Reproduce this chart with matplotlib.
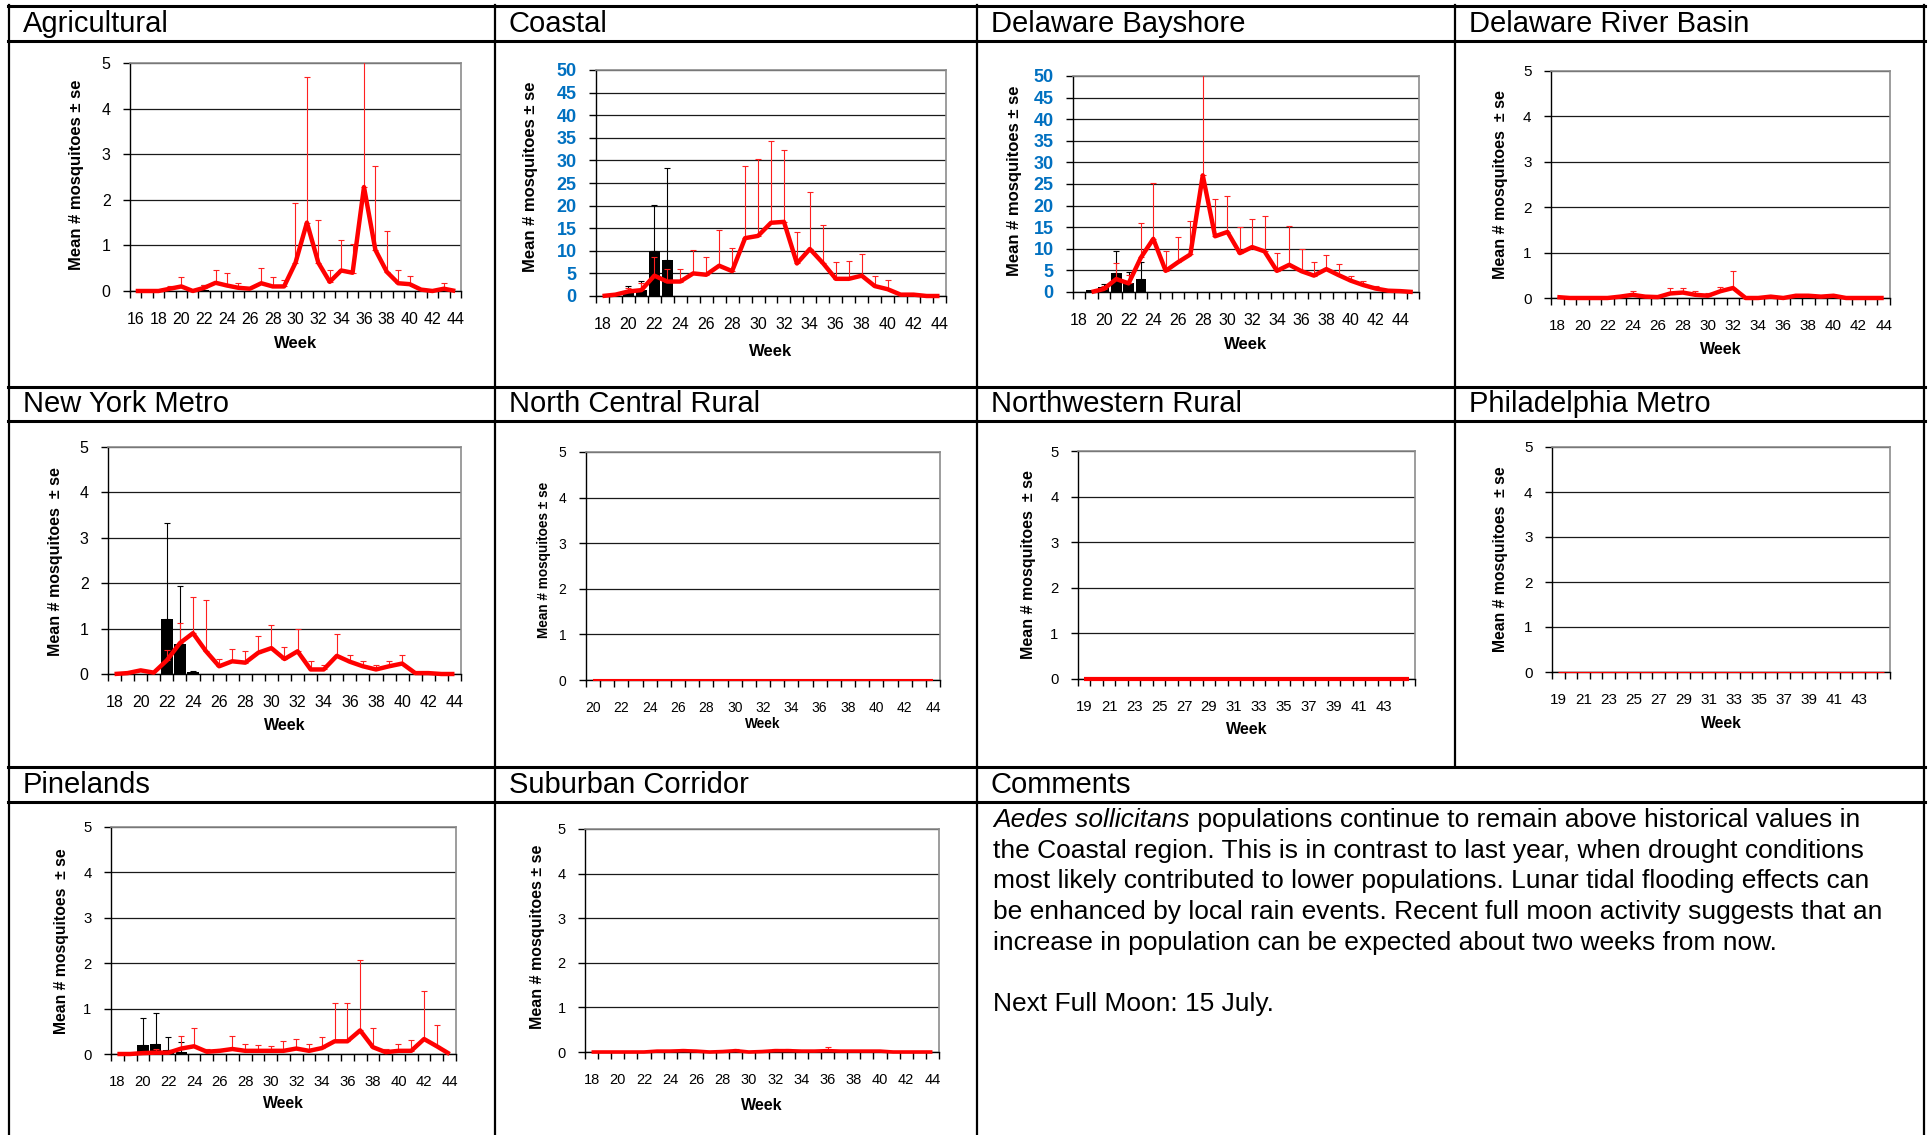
import matplotlib
matplotlib.use('Agg')
import matplotlib.pyplot as plt
import numpy as np
from matplotlib.lines import Line2D

plt.rcParams['font.family'] = ['Liberation Sans', 'DejaVu Sans']

W, H = 1931, 1135
nan = np.nan

YLAB = 'Mean # mosquitoes ± se'
YLAB2 = 'Mean # mosquitoes  ± se'

# ---------------- data ----------------
# Agricultural
agri_weeks = list(range(16, 45))
agri_mean = [0, 0, 0, 0.05, 0.1, 0.0, 0.07, 0.18, 0.12, 0.07, 0.05, 0.17, 0.1, 0.1, 0.62,
             1.5, 0.62, 0.2, 0.45, 0.4, 2.28, 0.9, 0.42, 0.17, 0.15, 0.03, 0.0, 0.05, 0.0]
agri_se = [0, 0, 0, 0.06, 0.2, 0, 0.06, 0.29, 0.28, 0.1, 0, 0.33, 0.2, 0.15, 1.31,
           3.2, 0.93, 0.27, 0.67, 0.63, 3.5, 1.85, 0.9, 0.28, 0.18, 0, 0, 0.12, 0]
agri_bar_weeks = [22]
agri_bar_mean = [0.03]
agri_bar_se = [0.1]
agri_ticklabels = list(range(16, 45, 2))

# Coastal
coastal_weeks = list(range(18, 45))
coastal_mean = [0, 0.3, 1.0, 1.3, 4.5, 3.2, 3.2, 5.0, 4.7, 6.7, 5.5, 12.8, 13.3, 16.2,
                16.4, 7.2, 10.4, 7.3, 3.8, 3.8, 4.5, 2.2, 1.5, 0.3, 0.3, 0, 0]
coastal_se = [0, 0, 0.8, 1.5, 4.2, 2.8, 2.8, 5.2, 4.0, 7.9, 5.1, 15.9, 17.1, 18.0,
              16.0, 6.9, 12.5, 8.4, 3.7, 3.9, 4.7, 2.2, 2.0, 0, 0, 0, 0]
coastal_bar_weeks = [20, 21, 22, 23]
coastal_bar_mean = [0.9, 1.3, 10.0, 8.0]
coastal_bar_se = [1.3, 2.1, 10.2, 20.4]
coastal_ticklabels = list(range(18, 45, 2))

# Delaware Bayshore
bay_weeks = list(range(18, 46))
bay_mean = [nan, 0, 0.7, 3.0, 2.0, 8.0, 12.3, 4.9, 6.9, 8.7, 27.0, 12.9, 13.9, 9.0,
            10.4, 9.4, 4.9, 6.3, 4.8, 3.8, 5.3, 3.9, 2.6, 1.6, 0.8, 0.3, 0.2, 0]
bay_se = [0, 0, 0.6, 3.8, 2.0, 8.0, 13.0, 4.6, 5.9, 7.8, 30.0, 8.6, 8.4, 6.0,
          6.4, 8.1, 4.1, 9.0, 5.2, 3.2, 3.2, 2.6, 1.2, 0.9, 0.7, 0, 0, 0]
bay_bar_weeks = [19, 20, 21, 22, 23]
bay_bar_mean = [0.4, 1.1, 4.4, 2.0, 3.0]
bay_bar_se = [0, 0.7, 5.1, 2.7, 4.0]
bay_ticklabels = list(range(18, 45, 2))

# Delaware River Basin
drb_weeks = list(range(18, 45))
drb_mean = [0.02, 0, 0, 0, 0, 0.03, 0.07, 0.03, 0.02, 0.1, 0.12, 0.07, 0.05, 0.15,
            0.22, 0, 0, 0.03, 0, 0.05, 0.05, 0.03, 0.05, 0, 0, 0, 0]
drb_se = [0, 0, 0, 0, 0, 0, 0.08, 0, 0, 0.12, 0.1, 0.08, 0.07, 0.1,
          0.38, 0, 0, 0, 0, 0, 0, 0, 0, 0, 0, 0, 0]
drb_ticklabels = list(range(18, 45, 2))

# New York Metro
ny_weeks = list(range(18, 45))
ny_mean = [0, 0.02, 0.08, 0.03, 0.3, 0.68, 0.9, 0.5, 0.17, 0.28, 0.25, 0.47, 0.57, 0.33,
           0.5, 0.1, 0.1, 0.4, 0.27, 0.17, 0.1, 0.17, 0.23, 0.02, 0.02, 0, 0]
ny_se = [0, 0, 0, 0, 0.23, 0.44, 0.8, 1.13, 0.16, 0.28, 0.26, 0.36, 0.5, 0.27,
         0.5, 0.18, 0.1, 0.48, 0.14, 0.11, 0.09, 0.11, 0.18, 0, 0, 0, 0]
ny_bar_weeks = [22, 23, 24]
ny_bar_mean = [1.22, 0.67, 0.04]
ny_bar_se = [2.11, 1.26, 0.03]
ny_ticklabels = list(range(18, 45, 2))

# North Central Rural
ncr_weeks = list(range(20, 45))
ncr_mean = [0] * 25
ncr_se = [0] * 25
ncr_ticklabels = list(range(20, 45, 2))

# Northwestern Rural
nwr_weeks = list(range(19, 46))
nwr_mean = [0] * 27
nwr_se = [0] * 27
nwr_ticklabels = list(range(19, 44, 2))

# Philadelphia Metro
phl_weeks = list(range(19, 46))
phl_mean = [0] * 27
phl_se = [0] * 27
phl_ticklabels = list(range(19, 44, 2))

# Pinelands
pine_weeks = list(range(18, 45))
pine_mean = [0, 0, 0.02, 0.03, 0.03, 0.12, 0.17, 0.05, 0.07, 0.11, 0.07, 0.07, 0.07, 0.07,
             0.12, 0.07, 0.13, 0.28, 0.28, 0.52, 0.15, 0.04, 0.07, 0.07, 0.33, 0.17, 0.0]
pine_se = [0, 0, 0, 0.09, 0, 0.27, 0.41, 0.07, 0.04, 0.28, 0.15, 0.13, 0.1, 0.22,
           0.22, 0.15, 0.24, 0.84, 0.84, 1.56, 0.43, 0.06, 0.15, 0.24, 1.05, 0.46, 0]
pine_bar_weeks = [20, 21, 22, 23]
pine_bar_mean = [0.2, 0.22, 0.08, 0.04]
pine_bar_se = [0.6, 0.68, 0.29, 0.23]
pine_ticklabels = list(range(18, 45, 2))

# Suburban Corridor
sub_weeks = list(range(18, 45))
sub_mean = [0, 0, 0, 0, 0, 0.02, 0.02, 0.03, 0.02, 0, 0.01, 0.03, 0, 0.01,
            0.03, 0.03, 0.02, 0.02, 0.03, 0.02, 0.02, 0.02, 0.02, 0, 0, 0, 0]
sub_se = [0, 0, 0, 0, 0, 0, 0, 0.04, 0, 0, 0, 0.04, 0, 0,
          0.04, 0.04, 0, 0, 0.09, 0, 0, 0, 0, 0, 0, 0, 0]
sub_ticklabels = list(range(18, 45, 2))

comment_italic = 'Aedes sollicitans'
comment_lines = [
    ' populations continue to remain above historical values in',
    'the Coastal region. This is in contrast to last year, when drought conditions',
    'most likely contributed to lower populations. Lunar tidal flooding effects can',
    'be enhanced by local rain events. Recent full moon activity suggests that an',
    'increase in population can be expected about two weeks from now.',
    '',
    'Next Full Moon: 15 July.',
]

fig = plt.figure(figsize=(W / 100, H / 100), dpi=100)


def px(x, y):
    return x / W, 1 - y / H


def draw_panel(l, t, r, b, weeks, mean, se, ticklabels, bar_weeks=(), bar_mean=(), bar_se=(),
               ymax=5, ystep=1, lw=3.2, tick_fs=11, lab_fs=12, ylabel=YLAB,
               ylab_x=0, ylab_y=0, week_y=0, blue=False):
    ax = fig.add_axes([l / W, 1 - b / H, (r - l) / W, (b - t) / H])
    n = len(weeks)
    x = np.arange(n)
    mean = np.array(mean, dtype=float)
    se = np.array(se, dtype=float)

    # black bars with upper error bars
    if len(bar_weeks):
        bx = np.array([weeks.index(w) for w in bar_weeks])
        ax.bar(bx, bar_mean, width=0.88, color='black', zorder=2)
        bse = np.array(bar_se, dtype=float)
        m = bse > 0
        ax.errorbar(bx[m], np.array(bar_mean)[m], yerr=[np.zeros(m.sum()), bse[m]], fmt='none',
                    ecolor='black', elinewidth=0.8, capsize=2.5, capthick=0.8, zorder=3)

    # red line with upper error bars
    m = se > 0
    if m.any():
        ax.errorbar(x[m], mean[m], yerr=[np.zeros(m.sum()), se[m]], fmt='none',
                    ecolor='#ff2020', elinewidth=0.8, capsize=2.5, capthick=0.8, zorder=3)
    ax.plot(x, mean, color='#ff0000', lw=lw, zorder=4, clip_on=False,
            solid_joinstyle='round', solid_capstyle='butt')

    ax.set_xlim(-0.5, n - 0.5)
    ax.set_ylim(0, ymax)
    ax.set_yticks(np.arange(0, ymax + ystep / 2, ystep))
    ax.yaxis.grid(True, color='#1a1a1a', lw=0.9)
    ax.set_axisbelow(True)

    ax.set_xticks([weeks.index(w) for w in ticklabels])
    ax.set_xticklabels([str(w) for w in ticklabels])
    ax.set_xticks(np.arange(-0.5, n), minor=True)
    ax.tick_params(axis='x', which='major', length=0, pad=15, labelsize=tick_fs)
    ax.tick_params(axis='x', which='minor', length=5, width=1, direction='out', color='black')
    ax.tick_params(axis='y', length=5, width=1, direction='out', pad=9, labelsize=tick_fs)
    if blue:
        for tl in ax.get_yticklabels():
            tl.set_color('#0070c0')
            tl.set_fontweight('bold')
            tl.set_fontsize(tick_fs + 1.5)

    for s in ['left', 'bottom']:
        ax.spines[s].set_color('black')
        ax.spines[s].set_linewidth(1.0)
    for s in ['top', 'right']:
        ax.spines[s].set_color('#8c8c8c')
        ax.spines[s].set_linewidth(1.2)

    fig.text(*px(ylab_x, ylab_y), ylabel, rotation=90, ha='center', va='center',
             fontsize=lab_fs, fontweight='bold')
    fig.text(*px((l + r) / 2, week_y), 'Week', ha='center', va='center',
             fontsize=lab_fs, fontweight='bold')
    return ax


# ---------------- table frame ----------------
def hline(y, x0, x1, lw=2.2):
    fig.add_artist(Line2D([x0 / W, x1 / W], [1 - y / H, 1 - y / H], color='black', lw=lw))


def vline(x, y0, y1, lw=1.6):
    fig.add_artist(Line2D([x / W, x / W], [1 - y0 / H, 1 - y1 / H], color='black', lw=lw))


for y in [6, 41, 387, 421, 767, 802]:
    hline(y, 8, 1925)
for x in [9, 495, 977, 1924]:
    vline(x, 5, 1135)
vline(1455, 5, 767)

titles = [('Agricultural', 9, 23.5), ('Coastal', 495, 23.5), ('Delaware Bayshore', 977, 23.5),
          ('Delaware River Basin', 1455, 23.5), ('New York Metro', 9, 404),
          ('North Central Rural', 495, 404), ('Northwestern Rural', 977, 404),
          ('Philadelphia Metro', 1455, 404), ('Pinelands', 9, 785),
          ('Suburban Corridor', 495, 785), ('Comments', 977, 785)]
for name, x0, yc in titles:
    fig.text(*px(x0 + 14, yc), name, ha='left', va='center', fontsize=21)

# ---------------- panels ----------------
draw_panel(130, 63, 461, 291, agri_weeks, agri_mean, agri_se, agri_ticklabels,
           agri_bar_weeks, agri_bar_mean, agri_bar_se,
           tick_fs=11.5, lab_fs=12, ylab_x=77, ylab_y=175, week_y=343)
draw_panel(596, 70, 946, 296, coastal_weeks, coastal_mean, coastal_se, coastal_ticklabels,
           coastal_bar_weeks, coastal_bar_mean, coastal_bar_se, ymax=50, ystep=5,
           tick_fs=11.5, lab_fs=12, ylab_x=530, ylab_y=177, week_y=351, blue=True)
draw_panel(1073, 76, 1419, 292, bay_weeks, bay_mean, bay_se, bay_ticklabels,
           bay_bar_weeks, bay_bar_mean, bay_bar_se, ymax=50, ystep=5,
           tick_fs=11.5, lab_fs=12, ylab_x=1015, ylab_y=181, week_y=345, blue=True)
draw_panel(1551, 71, 1890, 298, drb_weeks, drb_mean, drb_se, drb_ticklabels,
           tick_fs=11, lab_fs=11.5, ylabel=YLAB2, ylab_x=1501, ylab_y=185, week_y=350)

draw_panel(108, 447, 461, 674, ny_weeks, ny_mean, ny_se, ny_ticklabels,
           ny_bar_weeks, ny_bar_mean, ny_bar_se,
           tick_fs=11.5, lab_fs=11.5, ylabel=YLAB2, ylab_x=56, ylab_y=562, week_y=725)
draw_panel(586, 452, 940, 680, ncr_weeks, ncr_mean, ncr_se, ncr_ticklabels, lw=1.5,
           tick_fs=10, lab_fs=9.8, ylab_x=544, ylab_y=560, week_y=724)
draw_panel(1078, 451, 1415, 679, nwr_weeks, nwr_mean, nwr_se, nwr_ticklabels, lw=3.0,
           tick_fs=10.7, lab_fs=11.5, ylabel=YLAB2, ylab_x=1028, ylab_y=565, week_y=730)
draw_panel(1552, 447, 1890, 672, phl_weeks, phl_mean, phl_se, phl_ticklabels, lw=0.8,
           tick_fs=11, lab_fs=11.3, ylabel=YLAB2, ylab_x=1501, ylab_y=559, week_y=723)

draw_panel(111, 827, 456, 1054, pine_weeks, pine_mean, pine_se, pine_ticklabels,
           pine_bar_weeks, pine_bar_mean, pine_bar_se,
           tick_fs=10.7, lab_fs=11.3, ylabel=YLAB2, ylab_x=62, ylab_y=941, week_y=1104)
draw_panel(585, 829, 939, 1052, sub_weeks, sub_mean, sub_se, sub_ticklabels, lw=2.6,
           tick_fs=10.5, lab_fs=11.5, ylab_x=538, ylab_y=937, week_y=1105)

# ---------------- comments ----------------
cfs = 19
first = fig.text(*px(993, 820), comment_italic, ha='left', va='center', fontsize=cfs,
                 style='italic')
fig.add_artist(matplotlib.text.Annotation(comment_lines[0], xy=(1, 0), xycoords=first,
                                          ha='left', va='bottom', fontsize=cfs,
                                          annotation_clip=False))
for i, line in enumerate(comment_lines[1:], start=1):
    if line:
        fig.text(*px(993, 820 + i * 30.7), line, ha='left', va='center', fontsize=cfs)

fig.savefig('out.png', dpi=100)
